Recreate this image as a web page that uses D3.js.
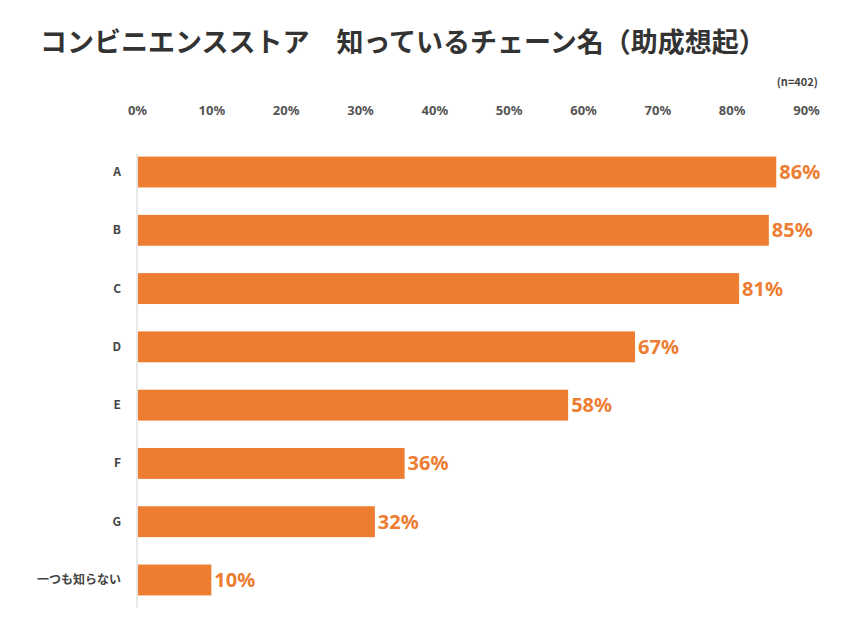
<!DOCTYPE html>
<html><head><meta charset="utf-8">
<script src="https://cdn.jsdelivr.net/npm/d3@7"></script>
<style>body{margin:0;background:#fff;font-family:"Noto Sans CJK JP","Noto Sans",sans-serif;}</style>
</head><body>
<svg id="chart" width="853" height="640"></svg>
<script>
// データ
var categories = ['A', 'B', 'C', 'D', 'E', 'F', 'G', '一つも知らない'];
var values = [86, 85, 81, 67, 58, 36, 32, 10];
var ticks = [0, 10, 20, 30, 40, 50, 60, 70, 80, 90];

var svg = d3.select('#chart');
var x = d3.scaleLinear().domain([0, 90]).range([137, 806]);
var y = d3.scaleBand().domain(categories).range([142, 610]).paddingInner(0.47).paddingOuter(0.25);

svg.append('text').attr('x', 40).attr('y', 52)
    .style('font-size', '27px').style('font-weight', 'bold').attr('fill', '#333')
    .text('コンビニエンスストア　知っているチェーン名（助成想起）');
svg.append('text').attr('x', 818).attr('y', 86).attr('text-anchor', 'end')
    .style('font-size', '11px').style('font-weight', 'bold').attr('fill', '#444').text('(n=402)');

// 上部の目盛り
var axis = d3.axisTop(x).tickValues(ticks).tickFormat(function(d){ return d + '%'; }).tickSize(0);
var gx = svg.append('g').attr('transform', 'translate(0,118)').call(axis);
gx.select('.domain').remove();
gx.selectAll('text').style('font-size', '13px').style('font-weight', 'bold').attr('fill', '#555')
    .style('font-family', '"Noto Sans","Noto Sans CJK JP",sans-serif');

svg.append('line').attr('x1', 137).attr('x2', 137).attr('y1', 154).attr('y2', 608)
    .attr('stroke', '#d0d0d0').attr('stroke-width', 1);

var rows = svg.selectAll('g.row').data(categories).enter().append('g').attr('class', 'row');
rows.append('rect')
    .attr('x', x(0) + 1).attr('y', function(d){ return y(d); })
    .attr('width', function(d, i){ return x(values[i]) - x(0) - 1; })
    .attr('height', y.bandwidth()).attr('fill', '#ed7d31');
rows.append('text')
    .attr('x', function(d, i){ return x(values[i]) + 3; })
    .attr('y', function(d){ return y(d) + y.bandwidth() / 2 + 7; })
    .style('font-size', '20px').style('font-weight', 'bold').attr('fill', '#ed7d31')
    .style('font-family', '"Noto Sans",sans-serif')
    .text(function(d, i){ return values[i] + '%'; });
rows.append('text')
    .attr('x', 121).attr('text-anchor', 'end')
    .attr('y', function(d){ return y(d) + y.bandwidth() / 2 + 4; })
    .style('font-size', '12px').style('font-weight', 'bold').attr('fill', '#444')
    .text(function(d){ return d; });
</script>
</body></html>
